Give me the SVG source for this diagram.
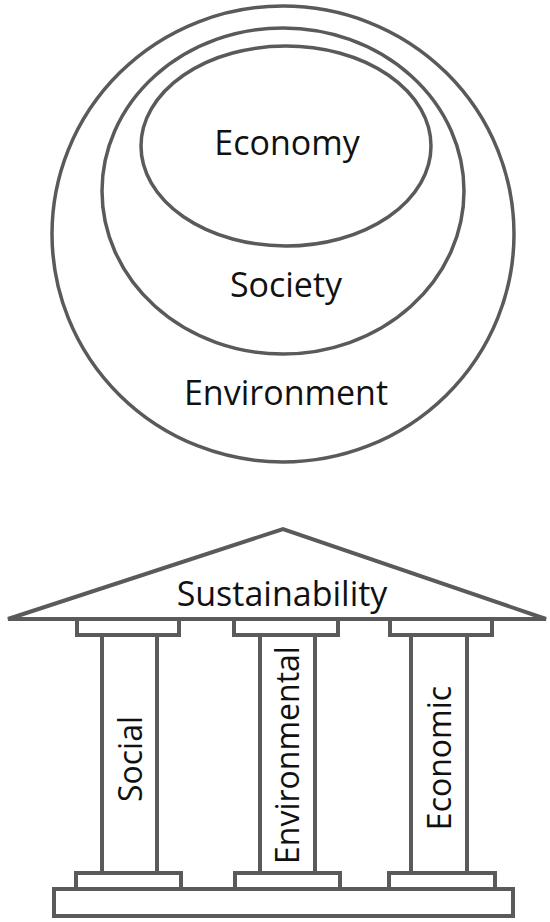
<svg xmlns="http://www.w3.org/2000/svg" width="550" height="922" viewBox="0 0 550 922">
<style>
.ln{fill:#fff;stroke:#5a5a5a;stroke-width:4;stroke-linejoin:miter}
.ring{fill:none;stroke:#5a5a5a;stroke-width:3.5}
.t{font-family:"Open Sans","Liberation Sans",sans-serif;fill:#111;text-anchor:middle}
.big{font-size:34px}
.pil{font-size:32px}
</style>
<rect width="550" height="922" fill="#fff"/>
<g id="environment">
<ellipse class="ring" cx="283" cy="234" rx="231" ry="228"/>
<text class="t big" x="286" y="405">Environment</text>
</g>
<g id="society">
<ellipse class="ring" cx="283" cy="191" rx="181" ry="163"/>
<text class="t big" x="286" y="297">Society</text>
</g>
<g id="economy">
<ellipse class="ring" cx="286" cy="146" rx="145" ry="100"/>
<text class="t big" x="287" y="155">Economy</text>
</g>
<g id="roof">
<polygon class="ln" points="8,619 283,529 546,619"/>
<text class="t big" x="282" y="606">Sustainability</text>
</g>
<g id="base">
<rect class="ln" x="54" y="889" width="459" height="27"/>
</g>
<g id="pillar-social">
<rect class="ln" x="77" y="619" width="102" height="16"/>
<rect class="ln" x="76" y="873" width="105" height="16"/>
<rect class="ln" x="102" y="635" width="55" height="238"/>
<text class="t pil" transform="translate(142,759) rotate(-90)">Social</text>
</g>
<g id="pillar-environmental">
<rect class="ln" x="234" y="619" width="104" height="16"/>
<rect class="ln" x="235" y="873" width="105" height="16"/>
<rect class="ln" x="260" y="635" width="55" height="238"/>
<text class="t pil" transform="translate(299,755) rotate(-90)">Environmental</text>
</g>
<g id="pillar-economic">
<rect class="ln" x="390" y="619" width="102" height="16"/>
<rect class="ln" x="389" y="873" width="106" height="16"/>
<rect class="ln" x="411" y="635" width="56" height="238"/>
<text class="t pil" transform="translate(451,758) rotate(-90)">Economic</text>
</g>
</svg>
